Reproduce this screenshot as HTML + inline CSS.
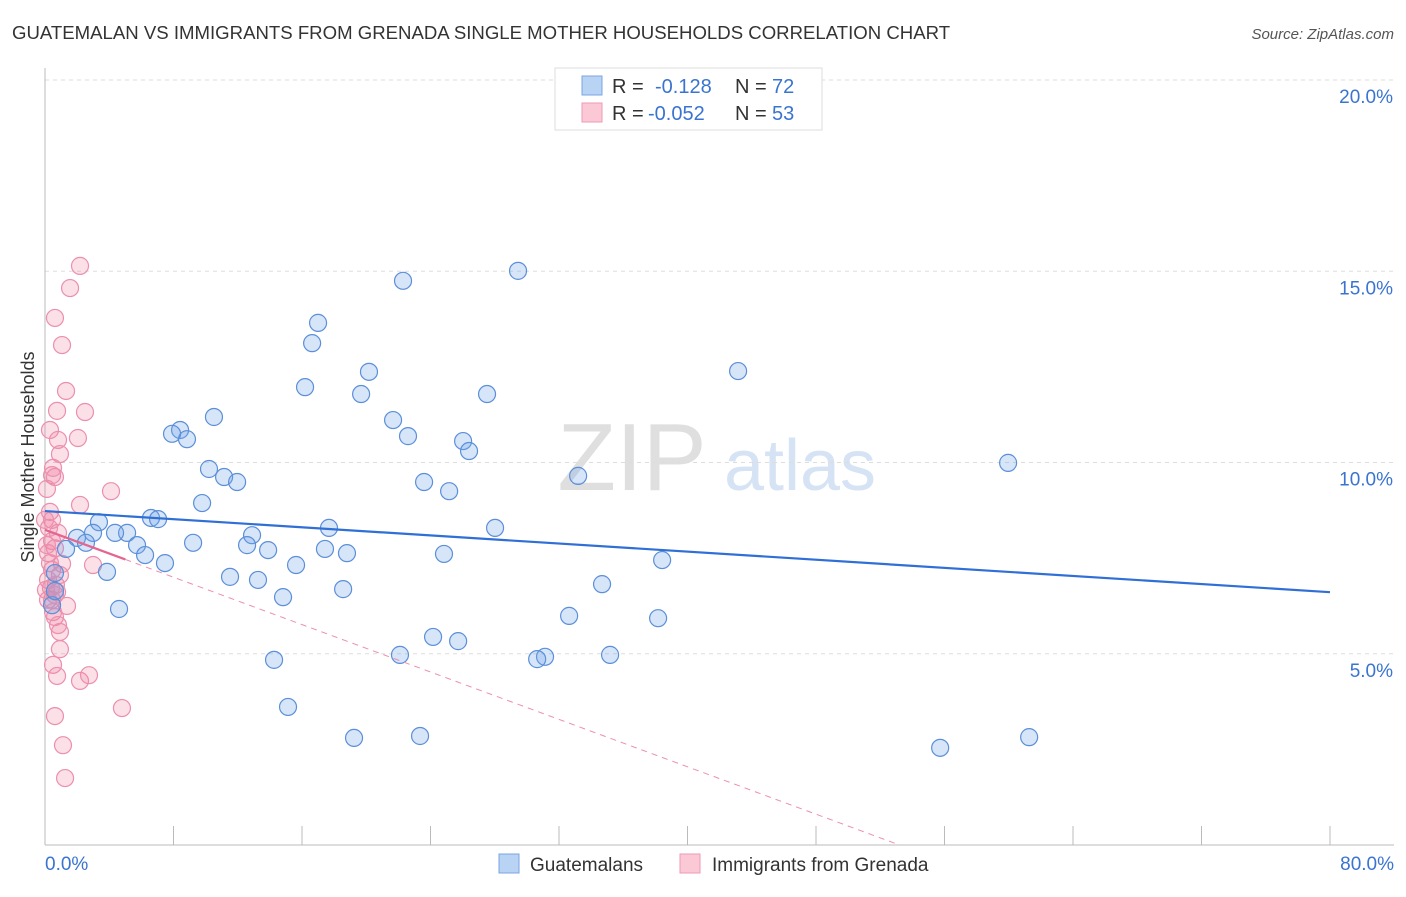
<!DOCTYPE html>
<html><head><meta charset="utf-8">
<style>
body{margin:0;background:#fff;font-family:"Liberation Sans",sans-serif;}
svg text{font-family:"Liberation Sans",sans-serif;}
</style></head>
<body>
<svg id="chart" width="1406" height="892" xmlns="http://www.w3.org/2000/svg">
<text x="12" y="39" font-size="18.6" fill="#333">GUATEMALAN VS IMMIGRANTS FROM GRENADA SINGLE MOTHER HOUSEHOLDS CORRELATION CHART</text>
<text x="1394" y="39" font-size="15" fill="#555" text-anchor="end" font-style="italic">Source: ZipAtlas.com</text>
<text transform="translate(34,457) rotate(-90)" font-size="18" fill="#333" text-anchor="middle">Single Mother Households</text>
<g opacity="0.3">
<text x="632" y="490" font-size="96" fill="#999" text-anchor="middle" font-family="Liberation Serif">ZIP</text>
<text x="800" y="490" font-size="72" fill="#7aa6e0" text-anchor="middle">atlas</text>
</g>
<g id="grid"></g><g id="axes"></g><g id="pts"></g><g id="trend"></g>
<g>
<rect x="555" y="68" width="267" height="62" fill="#fff" stroke="#ddd"/>
<rect x="582" y="76" width="20" height="19" fill="#b9d3f5" stroke="#7aa6e0"/>
<rect x="582" y="103" width="20" height="19" fill="#fbc8d6" stroke="#ef9ab4"/>
<text x="612" y="93" font-size="20" fill="#333">R =</text><text x="655" y="93" font-size="20" fill="#3a74d0">-0.128</text>
<text x="735" y="93" font-size="20" fill="#333">N =</text><text x="772" y="93" font-size="20" fill="#3a74d0">72</text>
<text x="612" y="120" font-size="20" fill="#333">R =</text><text x="648" y="120" font-size="20" fill="#3a74d0">-0.052</text>
<text x="735" y="120" font-size="20" fill="#333">N =</text><text x="772" y="120" font-size="20" fill="#3a74d0">53</text>
</g>
<g>
<rect x="499" y="854" width="20" height="19" fill="#b9d3f5" stroke="#7aa6e0"/>
<text x="530" y="871" font-size="19" fill="#333">Guatemalans</text>
<rect x="680" y="854" width="20" height="19" fill="#fbc8d6" stroke="#ef9ab4"/>
<text x="712" y="871" font-size="19" fill="#333">Immigrants from Grenada</text>
</g>
</svg>
<script>
const NS="http://www.w3.org/2000/svg";
const yTicks=[5,10,15,20];
const yTickLabels=["5.0%","10.0%","15.0%","20.0%"];
const xTickValues=[0,8,16,24,32,40,48,56,64,72,80];
const blueX=[29.45,22.29,17.00,16.63,43.15,20.17,16.19,19.68,27.52,10.52,21.67,8.41,7.91,8.84,22.60,26.03,26.40,59.96,10.21,11.15,11.96,23.60,33.19,25.16,9.78,6.60,7.04,3.36,17.68,28.02,5.11,4.36,2.99,12.89,1.99,2.55,5.73,1.31,9.22,12.58,13.89,17.43,18.80,24.84,6.23,7.47,3.86,15.63,38.42,0.62,11.52,13.26,34.68,18.56,14.82,0.44,4.61,32.63,38.17,24.16,25.72,22.10,35.18,31.13,30.64,14.26,15.13,19.24,23.35,55.73,61.27,0.62];
const blueY=[15.01,14.75,13.65,13.12,12.39,12.37,11.97,11.79,11.79,11.19,11.11,10.85,10.75,10.61,10.69,10.56,10.30,9.99,9.83,9.62,9.49,9.49,9.65,9.25,8.94,8.55,8.52,8.44,8.29,8.29,8.16,8.16,8.16,8.10,8.03,7.90,7.84,7.74,7.90,7.84,7.71,7.74,7.63,7.61,7.58,7.37,7.14,7.32,7.45,7.11,7.01,6.93,6.82,6.69,6.48,6.27,6.17,5.99,5.93,5.44,5.33,4.97,4.97,4.92,4.86,4.84,3.61,2.80,2.85,2.54,2.82,6.64];
const pinkX=[2.18,1.56,0.62,1.06,1.31,0.75,2.49,0.31,0.81,2.05,0.93,0.44,0.62,0.12,2.18,4.11,0.31,0.44,0.81,0.44,0.62,0.19,1.06,2.99,0.44,0.93,0.19,0.75,0.44,1.37,0.62,0.93,0.93,0.50,0.75,2.18,2.74,4.79,0.62,1.12,1.25,0.19,0.31,0.12,0.68,0.50,0.81,0.37,0.00,0.50,0.06,0.62,0.25];
const pinkY=[15.14,14.56,13.78,13.07,11.87,11.35,11.32,10.85,10.59,10.64,10.22,9.67,9.62,9.31,8.89,9.25,8.71,8.50,8.16,7.95,7.76,7.63,7.35,7.32,7.19,7.06,6.93,6.61,6.41,6.25,5.96,5.57,5.12,4.71,4.42,4.29,4.44,3.58,3.37,2.61,1.75,6.41,7.37,7.84,6.80,6.09,5.75,6.72,8.50,9.86,6.67,6.54,8.29];
const blueTrend=[8.73,6.61];
const pinkTrend=[8.24,-4.15];
const X0=45,X1=1330,Y0=845,Y20=80;
const sx=v=>X0+(X1-X0)*v/80;
const sy=v=>Y0-(Y0-Y20)*v/20;
function mk(t,a,p){const e=document.createElementNS(NS,t);for(const k in a)e.setAttribute(k,a[k]);p.appendChild(e);return e;}
const grid=document.getElementById('grid'),axes=document.getElementById('axes'),pts=document.getElementById('pts'),tr=document.getElementById('trend');
yTicks.forEach((v,i)=>{
 const l=mk('line',{x1:X0,x2:1394,y1:sy(v),y2:sy(v),stroke:'#ddd','stroke-dasharray':'4,4'},grid);
 
 
 const t=mk('text',{x:1393,y:sy(v)+23,'font-size':19,fill:'#3a74d0','text-anchor':'end'},grid);
 t.textContent=yTickLabels[i];
 
 
});
const ya=mk('line',{x1:X0,x2:X0,y1:68,y2:Y0,stroke:'#bbb'},axes);


const xa=mk('line',{x1:X0,x2:1394,y1:Y0,y2:Y0,stroke:'#bbb'},axes);


xTickValues.forEach(v=>{
 const l=mk('line',{x1:sx(v),x2:sx(v),y1:826,y2:Y0,stroke:'#bbb'},axes);
 
 
});
const xl0=mk('text',{x:45,y:870,'font-size':19,fill:'#3a74d0'},axes);xl0.textContent='0.0%';


const xl1=mk('text',{x:1394,y:870,'font-size':19,fill:'#3a74d0','text-anchor':'end'},axes);xl1.textContent='80.0%';


pinkX.forEach((x,i)=>{
 const c=mk('circle',{cx:sx(x),cy:sy(pinkY[i]),r:8.5,fill:'rgba(240,130,165,0.25)',stroke:'#ec8fae','stroke-width':1.2},pts);
 
 
});
blueX.forEach((x,i)=>{
 const c=mk('circle',{cx:sx(x),cy:sy(blueY[i]),r:8.5,fill:'rgba(110,160,230,0.28)',stroke:'#5b8fd9','stroke-width':1.2},pts);
 
 
});
const bl=mk('line',{x1:sx(0),y1:sy(blueTrend[0]),x2:sx(80),y2:sy(blueTrend[1]),stroke:'#2f6fd6','stroke-width':2.2},tr);


const pAt=x=>pinkTrend[0]+(pinkTrend[1]-pinkTrend[0])*x/80;
const pxEnd=pinkTrend[0]/(pinkTrend[0]-pinkTrend[1])*80;
const pd=mk('line',{x1:sx(5),y1:sy(pAt(5)),x2:sx(pxEnd),y2:sy(0),stroke:'#ec8fae','stroke-width':1,'stroke-dasharray':'6,5'},tr);


const ps=mk('line',{x1:sx(0),y1:sy(pAt(0)),x2:sx(5),y2:sy(pAt(5)),stroke:'#e4658f','stroke-width':2.2},tr);


</script>
</body></html>
